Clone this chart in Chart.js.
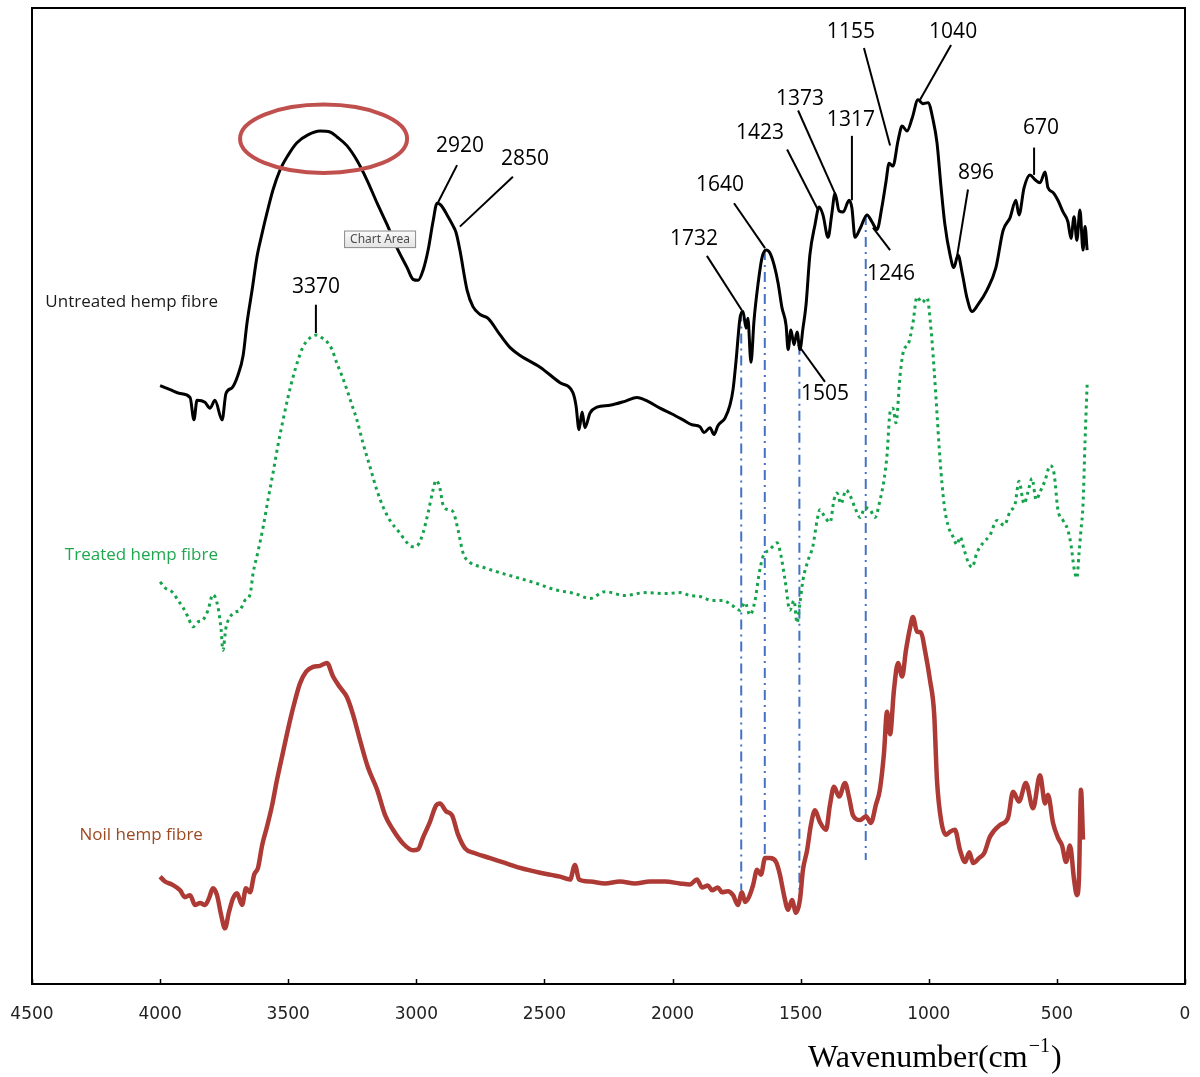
<!DOCTYPE html>
<html>
<head>
<meta charset="utf-8">
<title>FTIR spectra of hemp fibres</title>
<style>
  html, body { margin: 0; padding: 0; background: #ffffff; }
  canvas { display: block; }
</style>
<script src="https://cdn.jsdelivr.net/npm/chart.js@4.4.1/dist/chart.umd.min.js"></script>
</head>
<body>
<canvas id="ftir" width="1200" height="1077"></canvas>
<script>
// ---- tick labels of the wavenumber axis (cm^-1) ----
const wavenumberTicks = [4500, 4000, 3500, 3000, 2500, 2000, 1500, 1000, 500, 0];

// ---- untreated hemp fibre (stacked spectrum, arbitrary units) ----
const untreatedWn = [4000,3961,3922,3883,3868,3856,3825,3805,3786,3758,
  3743,3719,3696,3676,3661,3641,3622,3602,3583,3559,
  3532,3501,3466,3423,3376,3337,3310,3271,3232,3193,
  3153,3114,3075,3036,3013,2993,2974,2954,2935,2919,
  2904,2880,2857,2845,2830,2802,2779,2751,2720,2673,
  2634,2595,2517,2439,2389,2377,2365,2353,2342,2322,
  2295,2244,2186,2139,2096,2049,2002,1959,1924,1893,
  1877,1854,1838,1823,1795,1776,1764,1752,1737,1725,
  1713,1706,1694,1682,1667,1651,1635,1620,1604,1588,
  1573,1557,1549,1538,1526,1514,1503,1491,1479,1464,
  1444,1428,1413,1393,1379,1366,1350,1334,1311,1300,
  1288,1268,1241,1222,1202,1183,1167,1155,1140,1120,
  1104,1085,1065,1042,1023,1003,983,968,952,937,
  917,902,886,870,851,831,808,773,738,710,
  683,660,648,628,605,585,566,546,535,515,
  496,476,457,445,433,422,410,398,390,382];
const untreatedVal = [61.3,60.9,60.5,60.1,57.8,59.8,59.6,59.0,59.8,57.8,
  60.5,61.1,62.4,64.4,67.7,71.1,74.5,76.9,79.0,81.4,
  83.4,84.9,86.2,87.0,87.4,87.3,86.8,85.9,84.4,82.4,
  80.0,77.8,75.4,73.4,72.2,72.1,73.1,75.2,78.1,80.0,
  79.8,78.8,77.7,77.0,75.2,71.1,69.4,68.6,68.2,66.5,
  65.2,64.4,63.2,61.6,60.6,59.3,56.8,58.6,57.0,58.5,
  59.1,59.3,59.7,60.1,59.7,59.0,58.4,57.8,57.3,57.1,
  56.5,57.0,56.3,57.2,58.0,59.3,60.9,63.9,68.2,68.9,
  67.2,68.2,63.7,68.0,71.6,74.4,75.2,74.9,73.7,71.8,
  69.3,67.5,65.0,67.0,65.5,66.8,65.0,67.2,69.6,74.7,
  77.8,79.6,78.8,76.5,78.8,81.0,79.2,79.1,80.3,79.5,
  76.5,77.4,78.8,78.1,77.3,79.6,82.2,84.1,83.8,86.4,
  87.9,87.4,88.7,90.6,90.2,90.3,88.5,86.2,81.6,77.8,
  74.7,73.4,74.7,72.9,70.3,68.9,69.6,71.1,73.4,77.2,
  78.5,80.3,78.8,81.6,82.9,82.4,82.1,83.2,81.6,81.1,
  80.3,79.1,78.1,76.4,78.6,76.2,79.3,75.2,77.6,75.2];

// ---- treated hemp fibre ----
const treatedWn = [4000,3981,3950,3930,3911,3891,3872,3852,3833,3813,
  3794,3774,3762,3755,3743,3727,3708,3688,3669,3649,
  3637,3618,3598,3579,3559,3540,3520,3501,3481,3462,
  3442,3415,3388,3368,3349,3329,3310,3290,3271,3251,
  3232,3208,3181,3154,3130,3103,3064,3036,3013,2993,
  2974,2954,2935,2923,2908,2896,2876,2857,2837,2818,
  2791,2740,2681,2615,2537,2459,2381,2322,2264,2186,
  2108,2029,1971,1932,1893,1846,1803,1768,1737,1717,
  1698,1678,1663,1647,1620,1592,1577,1561,1542,1526,
  1514,1503,1491,1471,1452,1436,1425,1405,1385,1370,
  1358,1343,1323,1308,1288,1268,1249,1229,1210,1190,
  1175,1163,1151,1140,1128,1112,1097,1081,1062,1046,
  1027,1007,991,979,968,956,940,925,905,890,
  878,862,846,831,812,788,761,734,706,683,
  663,648,628,613,597,581,566,546,527,511,
  496,476,457,445,433,422,414,406,398,390,
  382];
const treatedVal = [41.2,40.6,40.1,39.3,38.6,37.6,36.6,37.1,37.3,38.3,
  39.9,38.6,36.3,34.2,36.5,37.6,38.1,38.3,39.3,39.9,
  42.1,44.3,46.8,49.6,52.4,55.2,57.8,60.1,62.2,63.9,
  65.3,66.2,66.5,66.2,65.8,65.0,63.6,62.3,60.9,59.3,
  57.8,55.4,53.0,50.6,48.9,47.5,46.2,45.2,44.8,45.0,
  46.2,48.3,50.6,51.6,50.8,49.1,48.6,48.4,46.5,44.2,
  43.2,42.7,42.2,41.7,41.1,40.4,40.0,39.5,40.2,39.8,
  40.1,40.0,40.1,39.8,39.7,39.3,39.3,38.8,38.3,39.1,
  37.8,39.3,41.9,43.8,44.5,45.2,43.9,41.4,38.3,39.3,
  37.0,39.0,41.4,43.4,44.9,47.5,48.6,47.8,47.3,49.6,
  50.3,49.2,50.6,50.1,48.8,47.8,48.8,48.6,47.8,49.6,
  51.6,54.2,58.6,59.0,57.5,62.4,65.0,65.5,67.7,70.4,
  69.8,70.3,67.0,62.9,58.5,53.7,49.1,47.0,45.8,45.0,
  45.8,44.5,43.2,42.7,44.2,45.2,46.0,47.5,47.0,48.4,
  49.2,51.5,49.2,50.4,51.8,49.6,50.4,51.6,53.1,52.3,
  48.6,47.5,46.5,45.0,42.6,41.6,44.0,46.5,49.1,55.7,
  61.4];

// ---- noil hemp fibre ----
const noilWn = [4000,3981,3954,3922,3903,3883,3864,3844,3825,3809,
  3794,3778,3762,3747,3731,3715,3700,3680,3665,3649,
  3633,3618,3602,3583,3563,3544,3520,3493,3473,3454,
  3430,3403,3376,3349,3325,3298,3271,3247,3220,3189,
  3153,3122,3091,3052,3013,2993,2974,2947,2923,2908,
  2884,2861,2837,2810,2771,2712,2654,2595,2517,2439,
  2400,2381,2365,2322,2264,2205,2147,2088,2029,1971,
  1932,1905,1885,1862,1846,1823,1807,1784,1764,1745,
  1729,1717,1702,1686,1670,1655,1639,1620,1596,1581,
  1565,1549,1534,1518,1503,1491,1475,1460,1444,1425,
  1401,1386,1370,1350,1327,1311,1296,1268,1245,1226,
  1206,1191,1175,1163,1151,1136,1120,1104,1089,1073,
  1062,1046,1030,1015,995,979,968,952,933,917,
  898,878,858,842,827,804,784,761,722,691,
  671,648,621,593,566,546,535,515,496,480,
  464,449,433,422,414,406,398];
const noilVal = [11.0,10.5,10.2,9.6,8.9,9.1,8.1,8.3,8.1,8.8,
  9.8,9.1,7.1,5.7,7.4,8.8,9.3,8.1,9.8,9.4,
  11.2,11.9,14.2,16.1,18.3,20.9,23.8,27.0,29.1,30.8,
  32.0,32.5,32.6,32.9,31.5,30.4,29.4,27.6,25.0,22.2,
  19.9,17.3,15.8,14.4,13.7,13.8,15.0,16.6,18.3,18.5,
  17.7,17.3,15.3,13.9,13.4,12.9,12.4,11.9,11.4,11.0,
  10.7,12.2,10.7,10.5,10.3,10.5,10.3,10.5,10.5,10.3,
  10.2,10.7,9.9,10.1,9.6,9.9,9.4,9.5,9.1,8.1,
  9.4,8.4,8.9,10.1,11.7,11.2,12.9,12.9,12.5,11.2,
  9.1,7.6,8.6,7.3,8.6,11.7,13.7,16.3,17.8,16.6,
  15.8,18.3,20.2,19.2,20.6,19.1,17.3,16.8,17.2,16.5,
  18.4,19.9,23.6,27.9,25.6,30.1,32.9,31.5,34.2,36.5,
  37.6,36.1,36.0,34.2,31.1,27.7,20.9,16.8,15.3,15.6,
  15.8,13.7,12.5,13.5,12.4,12.9,13.4,15.1,16.3,17.0,
  19.7,18.7,20.6,18.0,21.4,18.5,19.4,16.5,15.0,14.2,
  12.5,14.2,10.7,9.1,10.7,19.9,14.8];

// ---- vertical guide lines through shared bands ----
const guideWn     = [1732, 1640, 1505, 1246];
const guideTop    = [68.9, 75.2, 65.5, 78.8];
const guideBottom = [9.6, 12.2, 8.1, 12.7];

// ---- band labels: text and leader line, in wavenumber / intensity units ----
const bandLabels    = ['3370','2920','2850','1732','1640','1423','1373','1317','1155','1040','670','896','1246','1505'];
const bandTextWn    = [3392, 2830, 2576, 1916, 1815, 1659, 1503, 1304, 1304, 905, 562, 816, 1147, 1405];
const bandTextVal   = [71.4, 85.9, 84.5, 76.3, 81.9, 87.2, 90.7, 88.5, 97.5, 97.5, 87.7, 83.1, 72.7, 60.5];
const leaderFromWn  = [3392, 2841, 2623, 1866, 1760, 1553, 1510, 1300, 1253, 913, 589, 847, 1151, 1405];
const leaderFromVal = [69.6, 83.9, 82.7, 74.6, 80.0, 85.5, 89.5, 86.9, 95.9, 96.2, 85.7, 81.4, 75.2, 61.7];
const leaderToWn    = [3392, 2915, 2830, 1729, 1639, 1432, 1366, 1300, 1151, 1034, 589, 890, 1218, 1510];
const leaderToVal   = [66.7, 80.1, 77.6, 69.0, 75.4, 79.3, 81.0, 80.3, 85.9, 90.6, 82.9, 74.5, 77.5, 65.5];

// ---- sample names, placed to the left of each spectrum ----
const seriesNames  = ['Untreated hemp fibre', 'Treated hemp fibre', 'Noil hemp fibre'];
const seriesNameWn = [3774, 3774, 3833];
const seriesNameVal = [69.9, 43.9, 15.2];

const toPoints = (xs, ys) => xs.map((x, i) => ({ x: x, y: ys[i] }));

const guideSets = guideWn.map((w, i) => ({
  label: 'guide ' + w,
  data: [{ x: w, y: guideTop[i] }, { x: w, y: guideBottom[i] }],
  borderColor: '#4472C4',
  borderWidth: 2,
  borderDash: [10, 5, 2, 5],
  pointRadius: 0,
  showLine: true,
  tension: 0
}));

const decorations = {
  id: 'decorations',
  afterDatasetsDraw(chart) {
    const ctx = chart.ctx;
    const xs = chart.scales.x, ys = chart.scales.y;
    const a = chart.chartArea;
    const X = v => xs.getPixelForValue(v);
    const Y = v => ys.getPixelForValue(v);
    ctx.save();

    // highlighted O-H band
    const cx = X(3362), cy = Y(86.6);
    const rx = Math.abs(X(3362 - 326) - cx), ry = Math.abs(Y(86.6 - 3.5) - cy);
    ctx.beginPath();
    ctx.ellipse(cx, cy, rx, ry, 0, 0, Math.PI * 2);
    ctx.strokeStyle = '#C0504D';
    ctx.lineWidth = 4;
    ctx.stroke();

    // leader lines and band labels
    ctx.strokeStyle = '#000';
    ctx.lineWidth = 2;
    ctx.fillStyle = '#000';
    ctx.font = '21px "Open Sans"';
    ctx.textAlign = 'center';
    ctx.textBaseline = 'middle';
    bandLabels.forEach((t, i) => {
      ctx.beginPath();
      ctx.moveTo(X(leaderFromWn[i]), Y(leaderFromVal[i]));
      ctx.lineTo(X(leaderToWn[i]), Y(leaderToVal[i]));
      ctx.stroke();
      ctx.fillText(t, X(bandTextWn[i]), Y(bandTextVal[i]));
    });

    // sample names
    const nameColors = ['#1a1a1a', '#1FA84F', '#9C4A22'];
    ctx.font = '17px "Open Sans"';
    ctx.textAlign = 'right';
    seriesNames.forEach((t, i) => {
      ctx.fillStyle = nameColors[i];
      ctx.fillText(t, X(seriesNameWn[i]), Y(seriesNameVal[i]));
    });

    // hover tag left on the plot
    const bx0 = X(3282), bx1 = X(3001), by0 = Y(77.2), by1 = Y(75.4);
    const g = ctx.createLinearGradient(0, by0, 0, by1);
    g.addColorStop(0, '#fbfbfb');
    g.addColorStop(1, '#e2e2e2');
    ctx.fillStyle = g;
    ctx.fillRect(bx0, by0, bx1 - bx0, by1 - by0);
    ctx.strokeStyle = '#8c8c8c';
    ctx.lineWidth = 1;
    ctx.strokeRect(bx0 + 0.5, by0 + 0.5, bx1 - bx0 - 1, by1 - by0 - 1);
    ctx.fillStyle = '#4d4d4d';
    ctx.font = '12px "Noto Sans"';
    ctx.textAlign = 'center';
    ctx.fillText('Chart Area', (bx0 + bx1) / 2, (by0 + by1) / 2 + 0.5);

    // plot frame and inward tick marks
    ctx.strokeStyle = '#000';
    ctx.lineWidth = 2;
    ctx.strokeRect(a.left, a.top, a.right - a.left, a.bottom - a.top);
    ctx.lineWidth = 1.5;
    wavenumberTicks.forEach(v => {
      const px = Math.round(X(v)) + 0.5;
      ctx.beginPath();
      ctx.moveTo(px, a.bottom);
      ctx.lineTo(px, a.bottom - 5);
      ctx.stroke();
    });

    // axis title with superscript
    const left = X(1471), base = a.bottom + 83;
    ctx.fillStyle = '#000';
    ctx.textAlign = 'left';
    ctx.textBaseline = 'alphabetic';
    ctx.font = '32px "Liberation Serif"';
    const main = 'Wavenumber(cm';
    ctx.fillText(main, left, base);
    let x = left + ctx.measureText(main).width;
    ctx.font = '20px "Liberation Serif"';
    ctx.fillText('\u22121', x + 1, base - 15);
    x += ctx.measureText('\u22121').width + 2;
    ctx.font = '32px "Liberation Serif"';
    ctx.fillText(')', x, base);

    ctx.restore();
  }
};

new Chart(document.getElementById('ftir'), {
  type: 'scatter',
  data: {
    datasets: [
      {
        label: seriesNames[0],
        data: toPoints(untreatedWn, untreatedVal),
        borderColor: '#000000',
        borderWidth: 3,
        showLine: true,
        pointRadius: 0,
        cubicInterpolationMode: 'monotone'
      },
      {
        label: seriesNames[1],
        data: toPoints(treatedWn, treatedVal),
        borderColor: '#14A34A',
        borderWidth: 3,
        borderDash: [3, 4],
        showLine: true,
        pointRadius: 0,
        cubicInterpolationMode: 'monotone'
      },
      {
        label: seriesNames[2],
        data: toPoints(noilWn, noilVal),
        borderColor: '#AD3A35',
        borderWidth: 4.5,
        showLine: true,
        pointRadius: 0,
        cubicInterpolationMode: 'monotone'
      },
      ...guideSets
    ]
  },
  options: {
    responsive: false,
    animation: false,
    devicePixelRatio: 1,
    layout: { padding: { left: 32, right: 15, top: 8, bottom: 0 } },
    plugins: { legend: { display: false }, tooltip: { enabled: false } },
    scales: {
      x: {
        type: 'linear',
        reverse: true,
        min: 0,
        max: 4500,
        afterBuildTicks: s => { s.ticks = wavenumberTicks.map(v => ({ value: v })); },
        afterFit: s => { s.height = 93; s.paddingLeft = 0; s.paddingRight = 0; },
        grid: { display: false, drawTicks: false },
        border: { display: false },
        ticks: {
          padding: 20,
          color: '#222',
          font: { family: 'DejaVu Sans', size: 17 },
          maxRotation: 0,
          autoSkip: false,
          callback: v => String(v)
        }
      },
      y: {
        display: false,
        min: 0,
        max: 100
      }
    }
  },
  plugins: [decorations]
});
</script>
</body>
</html>
